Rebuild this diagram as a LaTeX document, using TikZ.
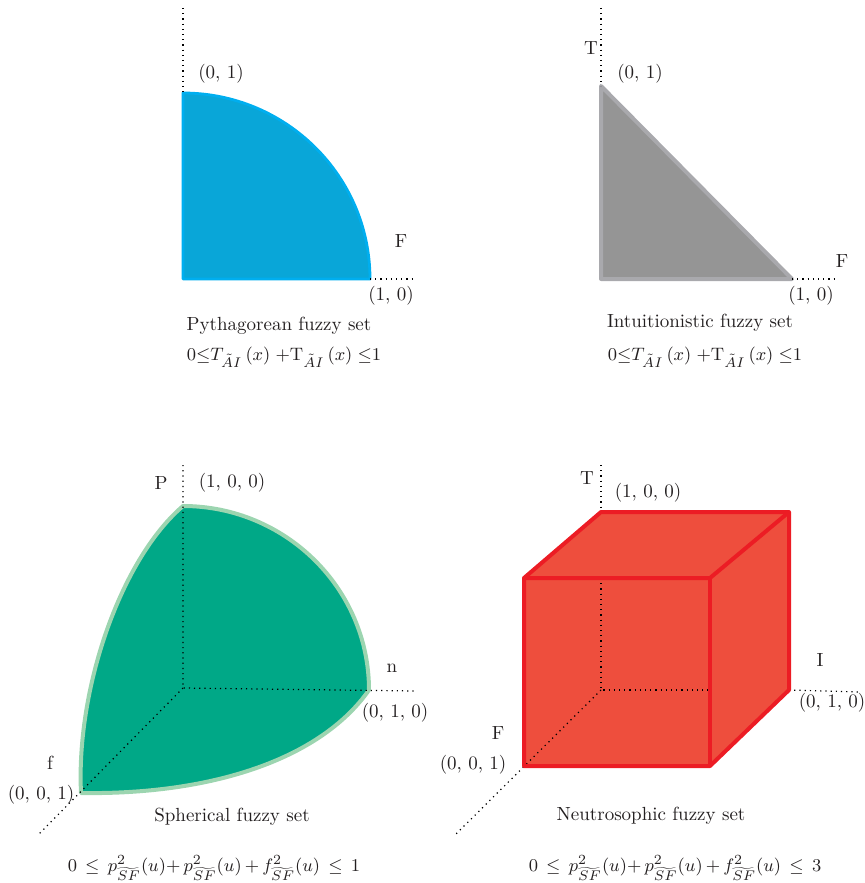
\documentclass[tikz,border=0pt]{standalone}
\usepackage{amsmath,amssymb}
\definecolor{pythfill}{HTML}{09A6D8}
\definecolor{pythline}{HTML}{00AEEF}
\definecolor{intfill}{HTML}{959595}
\definecolor{intline}{HTML}{A9A9AD}
\definecolor{sphfill}{HTML}{00A887}
\definecolor{sphline}{HTML}{9CD5B0}
\definecolor{neufill}{HTML}{EE4E3D}
\definecolor{neuline}{HTML}{EC1C24}
\definecolor{txt}{HTML}{231F20}
\tikzset{
  axis/.style={line width=0.6pt,dotted,black},
  lbl/.style={font=\fontsize{9.5}{11}\selectfont,text=txt,inner sep=0pt},
}
\begin{document}
\begin{tikzpicture}[x=0.5pt,y=-0.5pt,line join=round]
  \useasboundingbox (0,0) rectangle (865,883);
  % Pythagorean fuzzy set
  \filldraw[fill=pythfill,draw=pythline,line width=1.4pt] (183,93) .. controls (286,93) and (370,176) .. (370,279)
    -- (183,279) -- cycle;
  \draw[axis] (183,8) -- (183,93);
  \draw[axis] (370,279) -- (415,279);
  \node[lbl] (py01) at (221,74) {(0, 1)};
  \node[lbl] (pyF) at (401,241) {F};
  \node[lbl] (py10) at (391,296) {(1, 0)};
  \node[lbl] (pyname) at (279,326) {Pythagorean fuzzy set};
  \node[lbl] (pyform) at (284,357) {$0{\leq}T_{\tilde{A}I}\,(x)\;{+}\mathrm{T}_{\tilde{A}I}\,(x)\;{\leq}1$};
  % Intuitionistic fuzzy set
  \filldraw[fill=intfill,draw=intline,line width=2pt] (601,86) -- (601,279) -- (792,279) -- cycle;
  \draw[axis] (601,8) -- (601,86);
  \draw[axis] (792,279) -- (838,279);
  \node[lbl] (inT) at (591,48) {T};
  \node[lbl] (in01) at (640,74) {(0, 1)};
  \node[lbl] (inF) at (842,261) {F};
  \node[lbl] (in10) at (811,296) {(1, 0)};
  \node[lbl] (inname) at (700,323) {Intuitionistic fuzzy set};
  \node[lbl] (inform) at (705,357) {$0{\leq}T_{\tilde{A}I}\,(x)\;{+}\mathrm{T}_{\tilde{A}I}\,(x)\;{\leq}1$};
  % Spherical fuzzy set
  \filldraw[fill=sphfill,draw=sphline,line width=2pt] (183,506) .. controls (285,506) and (369,588) .. (369,690)
    .. controls (320,760) and (210,795) .. (81,793)
    .. controls (76,690) and (120,560) .. cycle;
  \draw[axis] (183,465) -- (183,688) -- (415,691);
  \draw[axis] (183,688) -- (38,835);
  \node[lbl] (spP) at (161,483) {P};
  \node[lbl] (sp100) at (232,483) {(1, 0, 0)};
  \node[lbl] (spn) at (392,668) {n};
  \node[lbl] (sp010) at (395,713) {(0, 1, 0)};
  \node[lbl] (spf) at (50,763) {f};
  \node[lbl] (sp001) at (41,795) {(0, 0, 1)};
  \node[lbl] (spname) at (232,817) {Spherical fuzzy set};
  \node[lbl] (spform) at (214,868) {$0\,\leq\,p^{2}_{\widetilde{SF}}(u){+}\,p^{2}_{\widetilde{SF}}(u)\,{+}\,f^{2}_{\widetilde{SF}}(u)\,\leq\,1$};
  % Neutrosophic fuzzy set
  \fill[neufill] (524,578) -- (601,512) -- (789,512) -- (789,690) -- (710,766) -- (524,766) -- cycle;
  \draw[axis] (601,465) -- (601,512);
  \draw[axis] (601,578) -- (601,690) -- (710,690);
  \draw[axis] (601,690) -- (455,835);
  \draw[axis] (789,690) -- (860,692);
  \draw[neuline,line width=2pt] (524,578) -- (601,512) -- (789,512) -- (789,690) -- (710,766) -- (524,766) -- cycle;
  \draw[neuline,line width=2pt] (524,578) -- (710,578) -- (789,512);
  \draw[neuline,line width=2pt] (710,578) -- (710,766);
  \node[lbl] (neT) at (587,478) {T};
  \node[lbl] (ne100) at (648,493) {(1, 0, 0)};
  \node[lbl] (neI) at (820,660) {I};
  \node[lbl] (ne010) at (832,703) {(0, 1, 0)};
  \node[lbl] (neF) at (498,733) {F};
  \node[lbl] (ne001) at (473,765) {(0, 0, 1)};
  \node[lbl] (nename) at (651,816) {Neutrosophic fuzzy set};
  \node[lbl] (neform) at (675,868) {$0\,\leq\,p^{2}_{\widetilde{SF}}(u){+}\,p^{2}_{\widetilde{SF}}(u)\,{+}\,f^{2}_{\widetilde{SF}}(u)\,\leq\,3$};
\end{tikzpicture}
\end{document}
